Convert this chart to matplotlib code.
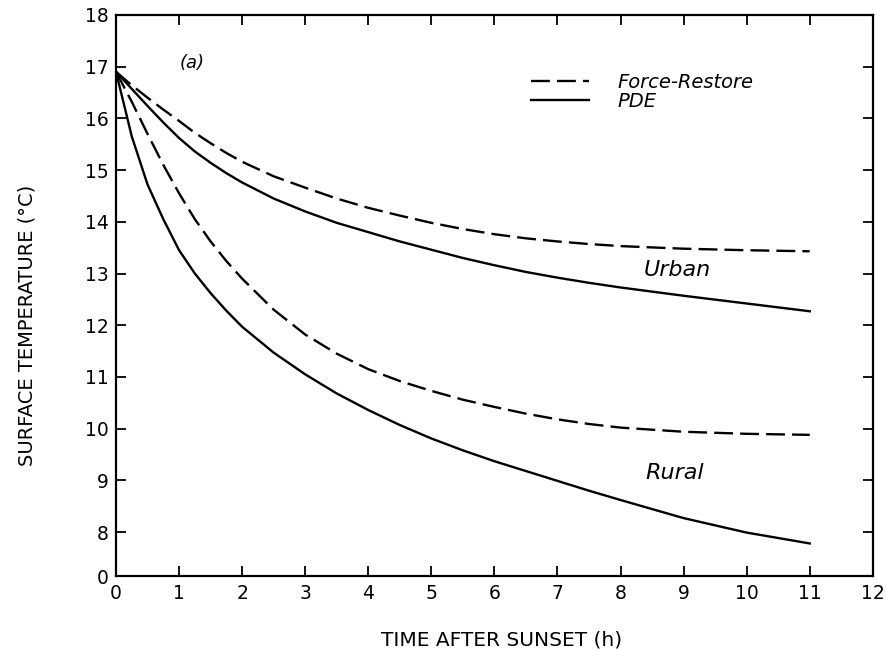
import numpy as np
import matplotlib.pyplot as plt

plt.rcParams['font.family'] = ['DejaVu Sans']

# hours after sunset
t = [0, 0.25, 0.5, 0.75, 1, 1.25, 1.5, 1.75, 2, 2.5, 3, 3.5, 4, 4.5,
     5, 5.5, 6, 6.5, 7, 7.5, 8, 9, 10, 11]

# surface temperature (deg C)
urban_fr = [16.9, 16.64, 16.4, 16.17, 15.95, 15.72, 15.52, 15.33, 15.16, 14.88,
            14.66, 14.45, 14.27, 14.12, 13.98, 13.86, 13.76, 13.68, 13.62, 13.57,
            13.53, 13.48, 13.45, 13.43]
urban_pde = [16.9, 16.57, 16.24, 15.92, 15.62, 15.36, 15.14, 14.94, 14.76, 14.45,
             14.2, 13.98, 13.8, 13.62, 13.46, 13.3, 13.16, 13.03, 12.92, 12.82,
             12.73, 12.57, 12.42, 12.27]
rural_fr = [16.9, 16.32, 15.7, 15.1, 14.55, 14.05, 13.62, 13.24, 12.9, 12.3,
            11.82, 11.45, 11.15, 10.92, 10.73, 10.56, 10.42, 10.29, 10.18, 10.09,
            10.02, 9.94, 9.9, 9.88]
rural_pde = [16.9, 15.65, 14.72, 14.05, 13.45, 13.0, 12.62, 12.28, 11.97, 11.47,
             11.05, 10.68, 10.36, 10.07, 9.81, 9.58, 9.37, 9.18, 8.99, 8.8,
             8.62, 8.27, 7.99, 7.78]

ytick_vals = [7.15, 8, 9, 10, 11, 12, 13, 14, 15, 16, 17, 18]
ytick_labels = ['0', '8', '9', '10', '11', '12', '13', '14', '15', '16', '17', '18']

fig = plt.figure(figsize=(8.87, 6.5), dpi=100)
ax = fig.add_axes([0.1308, 0.1138, 0.8532, 0.8632])

dash = (8, 3)
ax.plot(t, urban_fr, color='black', lw=1.7, dashes=dash, label='Force-Restore')
ax.plot(t, urban_pde, color='black', lw=1.7, label='PDE')
ax.plot(t, rural_fr, color='black', lw=1.7, dashes=dash)
ax.plot(t, rural_pde, color='black', lw=1.7)

ax.set_xlim(0, 12)
ax.set_ylim(7.15, 18)
ax.set_xticks(range(13))
ax.set_yticks(ytick_vals)
ax.set_yticklabels(ytick_labels)
ax.tick_params(direction='in', top=True, right=True, length=7, width=1.3,
               labelsize=13.5)
ax.tick_params(axis='x', pad=6)
ax.tick_params(axis='y', pad=5)
for s in ax.spines.values():
    s.set_linewidth(1.6)

ax.set_xlabel('TIME AFTER SUNSET (h)', fontsize=14.5)
ax.set_ylabel('SURFACE TEMPERATURE (°C)', fontsize=14)
ax.xaxis.set_label_coords(0.509, -0.097)
ax.yaxis.set_label_coords(-0.105, 0.446)

ax.text(1.2, 17.08, '(a)', fontsize=13, style='italic', ha='center', va='center')
ax.text(8.9, 13.07, 'Urban', fontsize=16, style='italic', ha='center', va='center')
ax.text(8.86, 9.14, 'Rural', fontsize=16, style='italic', ha='center', va='center')

ax.legend(loc='upper left', bbox_to_anchor=(0.525, 0.928), frameon=False,
          handlelength=3.0, handletextpad=1.45, labelspacing=0.0,
          prop={'size': 14, 'style': 'italic'})

fig.savefig('out.png', dpi=100)
